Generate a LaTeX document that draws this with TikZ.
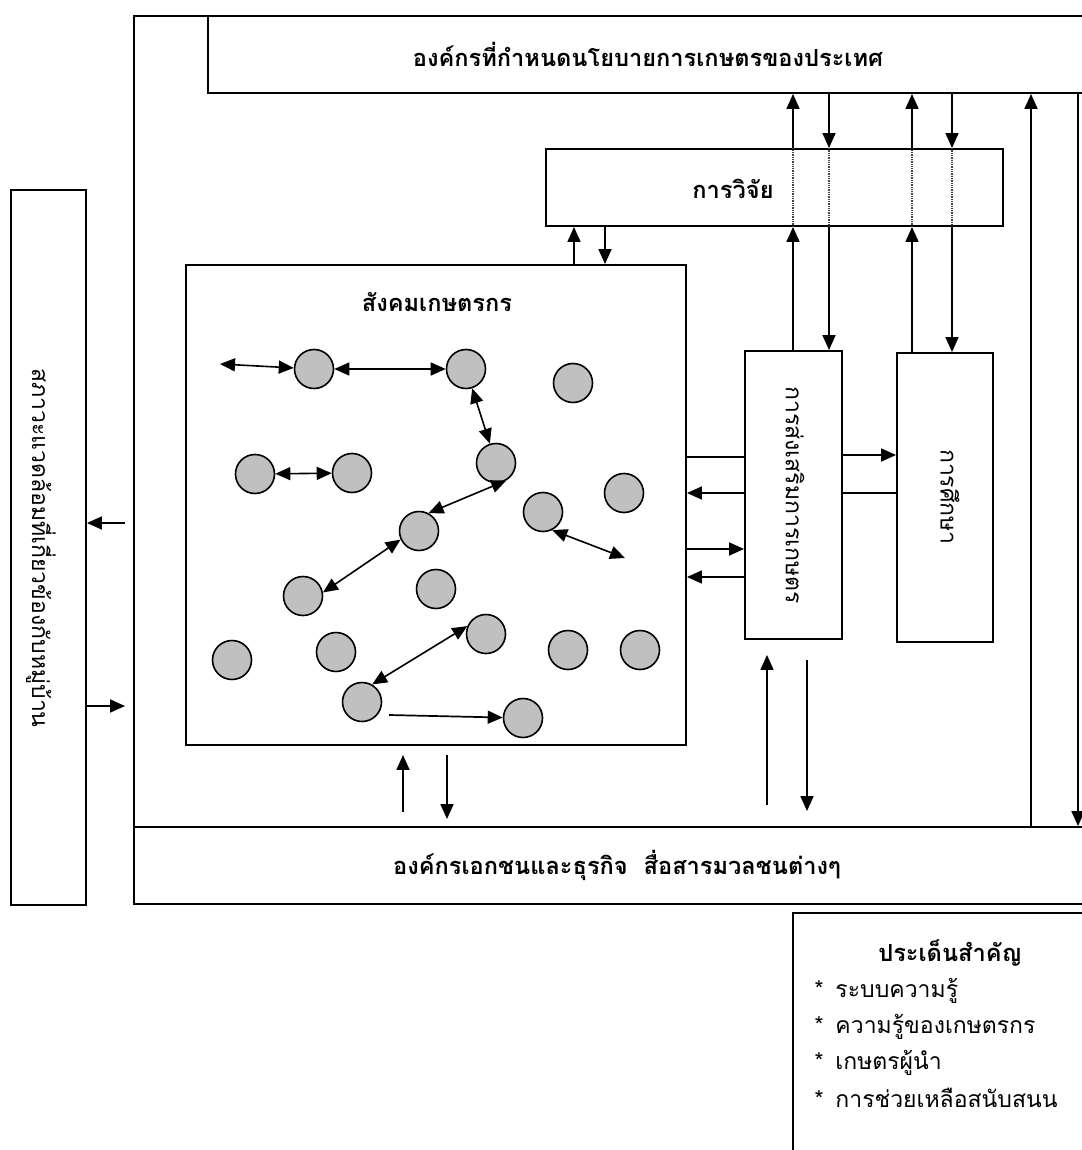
\documentclass[tikz,border=0pt]{standalone}
\usepackage{fontspec}
\newfontfamily\thaifont[Script=Thai]{Loma}
\usetikzlibrary{arrows.meta,positioning}
\definecolor{farmgray}{RGB}{192,192,192}

\begin{document}
\begin{tikzpicture}[x=1pt,y=-1pt,
    box/.style={draw,line width=1.9pt,rectangle,inner sep=0pt},
    farmer/.style={circle,draw,line width=1.6pt,fill=farmgray,minimum size=39pt,inner sep=0pt},
    tip/.style={-{Triangle[length=15pt,width=13pt]},line width=1.7pt},
    both/.style={{Triangle[length=15pt,width=13pt]}-{Triangle[length=15pt,width=13pt]},line width=1.6pt},
    plain/.style={line width=1.7pt},
    dots/.style={densely dotted,line width=1.3pt,black!75},
    head/.style={font=\thaifont\bfseries\fontsize{23.6}{28}\selectfont},
    body/.style={font=\thaifont\fontsize{23}{28}\selectfont}]
  \useasboundingbox (0,0) rectangle (1081,1150);

  % big frames
  \node [box,minimum width=966pt,minimum height=888pt] (frame) at (617,460) {};
  \node [box,minimum width=892pt,minimum height=77pt] (policy) at (654,54.5) {};
  \node [head] at (648,54) {องค์กรที่กำหนดนโยบายการเกษตรของประเทศ};
  \node [box,minimum width=966pt,minimum height=77pt,head] (private) at (617,865.5) {องค์กรเอกชนและธุรกิจ~~สื่อสารมวลชนต่างๆ};
  \node [box,minimum width=75pt,minimum height=715pt] (outside) at (48.5,547.5) {};
  \node [body,rotate=-90] at (41,548) {สภาวะแวดล้อมที่เกี่ยวข้องกับหมู่บ้าน};

  % inner boxes
  \node [box,minimum width=457pt,minimum height=77pt] (research) at (774.5,187.5) {};
  \node [head] at (733,189) {การวิจัย};
  \node [box,minimum width=500pt,minimum height=480pt] (society) at (436,505) {};
  \node [head] at (437,302) {สังคมเกษตรกร};
  \node [box,minimum width=97pt,minimum height=288pt] (extension) at (793.5,495) {};
  \node [body,rotate=-90] at (795,495) {การส่งเสริมการเกษตร};
  \node [box,minimum width=96pt,minimum height=289pt] (education) at (945,497.5) {};
  \node [body,rotate=-90] at (950,497) {การศึกษา};

  % key points
  \node [box,minimum width=307pt,minimum height=257pt] (keys) at (946.5,1041.5) {};
  \node [head] at (950,953) {ประเด็นสำคัญ};
  \node [body,anchor=west] (k1) at (811,991) {*\hspace{12pt}ระบบความรู้};
  \node [body,anchor=west] (k2) at (811,1027) {*\hspace{12pt}ความรู้ของเกษตรกร};
  \node [body,anchor=west] (k3) at (811,1063) {*\hspace{12pt}เกษตรผู้นำ};
  \node [body,anchor=west] (k4) at (811,1098) {*\hspace{12pt}การช่วยเหลือสนับสนน};

  % farmers
  \node [farmer] (c1) at (314,369) {};
  \node [farmer] (c2) at (466,369) {};
  \node [farmer] (c3) at (573,383) {};
  \node [farmer] (c4) at (496,463) {};
  \node [farmer] (c5) at (255,474) {};
  \node [farmer] (c6) at (352,473) {};
  \node [farmer] (c7) at (624,493) {};
  \node [farmer] (c8) at (543,512) {};
  \node [farmer] (c9) at (419,531) {};
  \node [farmer] (c10) at (303,596) {};
  \node [farmer] (c11) at (436,589) {};
  \node [farmer] (c12) at (486,634) {};
  \node [farmer] (c13) at (232,660) {};
  \node [farmer] (c14) at (336,652) {};
  \node [farmer] (c15) at (568,650) {};
  \node [farmer] (c16) at (640,650) {};
  \node [farmer] (c17) at (362,702) {};
  \node [farmer] (c18) at (523,718) {};
  \coordinate (p1) at (220,364);
  \coordinate (p7) at (625,558);
  \coordinate (p9) at (389,715);

  \draw [both] (p1) -- (c1);
  \draw [both] (c1) -- (c2);
  \draw [both] (c2) -- (c4);
  \draw [both] (c5) -- (c6);
  \draw [both] (c4.-60) -- (c9.62);
  \draw [both] (c9.205) -- (c10.10);
  \draw [both] (c8.-63) -- (p7);
  \draw [both] (c12.157) -- (c17.60);
  \draw [tip] (p9) -- (c18);

  % columns and rows for the links
  \coordinate (ra) at (574,0);  \coordinate (rb) at (605,0);
  \coordinate (ea) at (793,0);  \coordinate (eb) at (829,0);
  \coordinate (da) at (912,0);  \coordinate (db) at (952,0);
  \coordinate (ua) at (1031,0); \coordinate (ub) at (1078,0);
  \coordinate (fa) at (403,0);  \coordinate (fb) at (447,0);
  \coordinate (ga) at (767,0);  \coordinate (gb) at (807,0);
  \coordinate (h1) at (0,457);  \coordinate (h2) at (0,493);
  \coordinate (h3) at (0,549);  \coordinate (h4) at (0,577);
  \coordinate (k1) at (0,455);  \coordinate (k2) at (0,493);
  \coordinate (la) at (0,523);  \coordinate (lb) at (0,706);

  % society <-> research
  \draw [tip] (society.north -| ra) -- (research.south -| ra);
  \draw [tip] (research.south -| rb) -- (society.north -| rb);
  % extension and education <-> research <-> policy
  \draw [tip] (extension.north -| ea) -- (research.south -| ea);
  \draw [dots] (research.south -| ea) -- (research.north -| ea);
  \draw [tip] (research.north -| ea) -- (policy.south -| ea);
  \draw [tip] (policy.south -| eb) -- (research.north -| eb);
  \draw [dots] (research.north -| eb) -- (research.south -| eb);
  \draw [tip] (research.south -| eb) -- (extension.north -| eb);
  \draw [tip] (education.north -| da) -- (research.south -| da);
  \draw [dots] (research.south -| da) -- (research.north -| da);
  \draw [tip] (research.north -| da) -- (policy.south -| da);
  \draw [tip] (policy.south -| db) -- (research.north -| db);
  \draw [dots] (research.north -| db) -- (research.south -| db);
  \draw [tip] (research.south -| db) -- (education.north -| db);
  % private <-> policy
  \draw [tip] (private.north -| ua) -- (policy.south -| ua);
  \draw [tip] (policy.south -| ub) -- (private.north -| ub);
  % society, extension <-> private
  \draw [tip,shorten <=14pt,shorten >=9pt] (private.north -| fa) -- (society.south -| fa);
  \draw [tip,shorten <=9pt,shorten >=7pt] (society.south -| fb) -- (private.north -| fb);
  \draw [tip,shorten <=21pt,shorten >=15pt] (private.north -| ga) -- (extension.south -| ga);
  \draw [tip,shorten <=20pt,shorten >=15pt] (extension.south -| gb) -- (private.north -| gb);
  % society <-> extension
  \draw [plain] (society.east |- h1) -- (extension.west |- h1);
  \draw [tip] (extension.west |- h2) -- (society.east |- h2);
  \draw [tip] (society.east |- h3) -- (extension.west |- h3);
  \draw [tip] (extension.west |- h4) -- (society.east |- h4);
  % extension <-> education
  \draw [tip] (extension.east |- k1) -- (education.west |- k1);
  \draw [plain] (extension.east |- k2) -- (education.west |- k2);
  % outside <-> frame
  \draw [tip,shorten <=8pt] (frame.west |- la) -- (outside.east |- la);
  \draw [tip,shorten >=8pt] (outside.east |- lb) -- (frame.west |- lb);
\end{tikzpicture}
\end{document}
